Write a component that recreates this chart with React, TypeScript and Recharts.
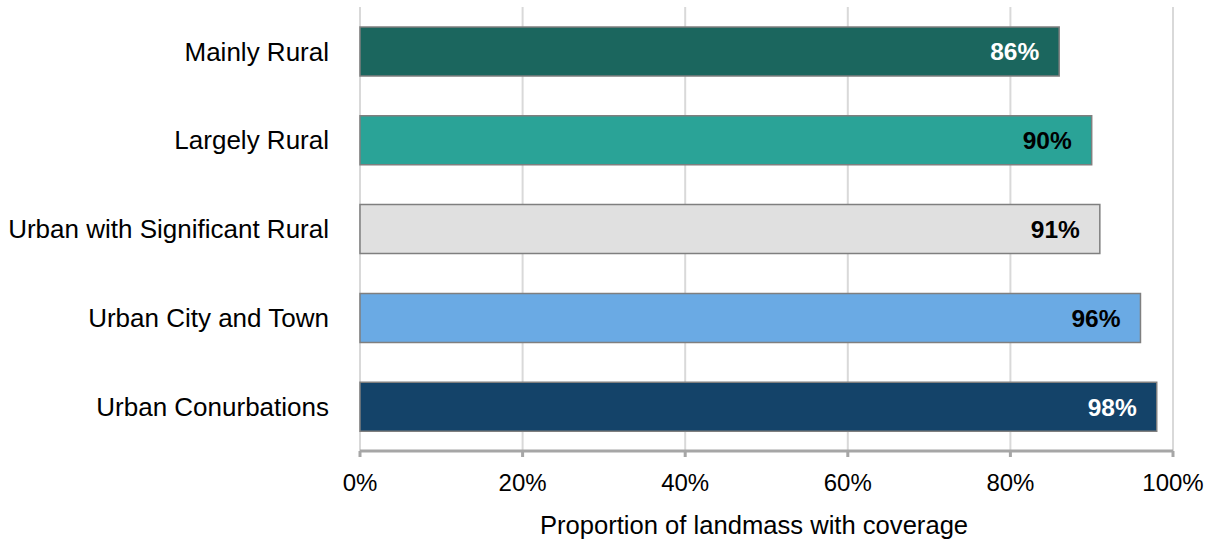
import { BarChart, Bar, XAxis, YAxis, CartesianGrid, Cell, LabelList } from 'recharts';

const categories = [
  'Mainly Rural',
  'Largely Rural',
  'Urban with Significant Rural',
  'Urban City and Town',
  'Urban Conurbations',
];
const coverage = [86, 90, 91, 96, 98];
const barColors = ['#1b665e', '#2aa397', '#e0e0e0', '#6aaae4', '#144369'];
const labelColors = ['#ffffff', '#000000', '#000000', '#000000', '#ffffff'];
const xTicks = [0, 20, 40, 60, 80, 100];

const data = categories.map((name, i) => ({ name, value: coverage[i] }));

const FONT = '"Liberation Sans", Arial, sans-serif';

// value label drawn inside the right end of each bar
const BarValue = (props: any) => {
  const { x, y, width, height, value, index } = props;
  const i = typeof index === 'number' ? index : coverage.indexOf(value);
  return (
    <text
      x={x + width - 20}
      y={y + height / 2}
      dy="0.36em"
      textAnchor="end"
      fontFamily={FONT}
      fontSize={24.5}
      fontWeight="bold"
      fill={labelColors[i] ?? '#000'}
    >
      {`${value}%`}
    </text>
  );
};

export default function App() {
  return (
    <div style={{ position: 'absolute', left: 0, top: 0, background: '#fff' }}>
      <BarChart
        width={1211}
        height={543}
        data={data}
        layout="vertical"
        margin={{ top: 7, right: 38, bottom: 0, left: 0 }}
        barSize={49}
      >
        <CartesianGrid horizontal={false} stroke="#d9d9d9" strokeWidth={2} />
        <XAxis
          type="number"
          domain={[0, 100]}
          ticks={xTicks}
          tickFormatter={(v) => `${v}%`}
          axisLine={{ stroke: '#a6a6a6', strokeWidth: 3 }}
          tickLine={{ stroke: '#a6a6a6', strokeWidth: 3 }}
          tickSize={6}
          tickMargin={17}
          height={92}
          tick={{ fontFamily: FONT, fontSize: 24, fill: '#000' }}
          label={{
            value: 'Proportion of landmass with coverage',
            position: 'insideBottom',
            offset: 9,
            dx: -12.5,
            fontFamily: FONT,
            fontSize: 25.6,
            fill: '#000',
          }}
        />
        <YAxis
          type="category"
          dataKey="name"
          width={360}
          axisLine={false}
          tickLine={false}
          tickSize={0}
          tickMargin={31}
          tick={{ fontFamily: FONT, fontSize: 26, fill: '#000' }}
        />
        <Bar dataKey="value" isAnimationActive={false} stroke="#7f7f7f" strokeWidth={1.5}>
          {data.map((d, i) => (
            <Cell key={d.name} fill={barColors[i]} />
          ))}
          <LabelList dataKey="value" content={BarValue} />
        </Bar>
      </BarChart>
    </div>
  );
}
